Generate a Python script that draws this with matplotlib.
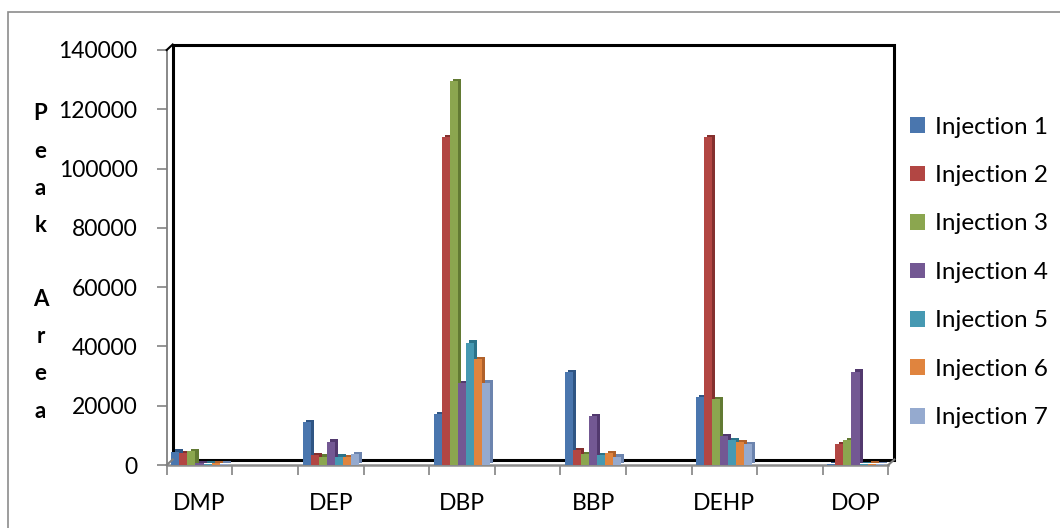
import numpy as np
import matplotlib
matplotlib.use('Agg')
import matplotlib.pyplot as plt
import matplotlib.patheffects as pe
from matplotlib.patches import Rectangle
from matplotlib.lines import Line2D
import matplotlib.transforms as mtransforms

plt.rcParams['font.family'] = ['Lato', 'DejaVu Sans']

# phthalates, with empty spacer categories between them
compounds = ['DMP', '', 'DEP', '', 'DBP', '', 'BBP', '', 'DEHP', '', 'DOP']
series = ['Injection 1', 'Injection 2', 'Injection 3', 'Injection 4',
          'Injection 5', 'Injection 6', 'Injection 7']

inj1 = [4500, 0, 14400, 0, 17100, 0, 31300, 0, 23000, 0, 300]
inj2 = [3900, 0, 3400, 0, 110500, 0, 5100, 0, 110500, 0, 7100]
inj3 = [4600, 0, 2800, 0, 129500, 0, 3600, 0, 22200, 0, 8300]
inj4 = [700, 0, 7900, 0, 27500, 0, 16500, 0, 9800, 0, 31500]
inj5 = [500, 0, 2800, 0, 41300, 0, 3400, 0, 8400, 0, 400]
inj6 = [600, 0, 2600, 0, 35800, 0, 3900, 0, 7800, 0, 500]
inj7 = [500, 0, 3700, 0, 27800, 0, 2800, 0, 7100, 0, 400]
values = [inj1, inj2, inj3, inj4, inj5, inj6, inj7]

colors = ['#4A76AE', '#B24643', '#8BA64F', '#735893', '#4699B2', '#E0843E', '#95AACF']
sides = ['#2F5584', '#84302E', '#627A33', '#52396E', '#2C7389', '#B0612A', '#6C84AE']

fig = plt.figure(figsize=(10.6, 5.28), dpi=100)
W, H = 1060, 528
ax = fig.add_axes([166.7 / W, (H - 465) / H, (888.3 - 166.7) / W, (465 - 50) / H])

# outer chart border
fig.patches.append(Rectangle((8 / W, -0.1), 2, (H - 12) / H + 0.1, transform=fig.transFigure,
                             fill=False, edgecolor='#8C8C8C', linewidth=1.2, zorder=0))

# back wall of the 3-D plot area, pushed back a few pixels
depth = (6, 5.5)
wall = mtransforms.offset_copy(ax.transAxes, fig=fig, x=depth[0], y=depth[1], units='dots')
ax.add_patch(Rectangle((0, 0), 1, 1, transform=wall, fill=False, edgecolor='black',
                       linewidth=2.2, zorder=1, clip_on=False))
# edges joining the front frame to the back wall
for cx, cy, col in [(0, 1, 'black'), (1, 0, '#7F7F7F'), (0, 0, '#7F7F7F')]:
    a = ax.transAxes.transform((cx, cy))
    b = a + np.array(depth)
    fig.lines.append(Line2D([a[0] / W, b[0] / W], [a[1] / H, b[1] / H],
                            transform=fig.transFigure, color=col, linewidth=1.5))

x = np.arange(len(compounds))
width = 0.122
for i, (vals, c, s, name) in enumerate(zip(values, colors, sides, series)):
    ax.bar(x + (i - 3) * width, vals, width, color=c, label=name, zorder=3, linewidth=0,
           path_effects=[pe.SimplePatchShadow(offset=(2.2, 1.6), shadow_rgbFace=s, alpha=1),
                         pe.Normal()])

ax.set_xlim(-0.5, len(compounds) - 0.5)
ax.set_ylim(0, 140000)
ax.set_yticks(np.arange(0, 140001, 20000))
ax.set_xticks(x)
ax.set_xticklabels(compounds)
ax.set_xticks(np.arange(-0.5, len(compounds), 1), minor=True)
ax.tick_params(axis='x', which='major', length=0, pad=20, labelsize=16.5)
ax.tick_params(axis='x', which='minor', length=7, color='#8C8C8C', width=1.3)
ax.tick_params(axis='y', length=7, color='#8C8C8C', width=1.3, pad=14, labelsize=16.5)

for side in ['top', 'right']:
    ax.spines[side].set_visible(False)
ax.spines['left'].set_color('#7F7F7F')
ax.spines['bottom'].set_color('#8C8C8C')
ax.spines['left'].set_linewidth(1.3)
ax.spines['bottom'].set_linewidth(1.8)
ax.patch.set_alpha(0)

ax.set_ylabel('P\ne\na\nk\n\nA\nr\ne\na', rotation=0, fontweight='bold', fontsize=16,
              linespacing=1.95, va='center', ha='center')
ax.yaxis.set_label_coords(-0.175, 0.488)

leg = ax.legend(loc='center left', bbox_to_anchor=(1.0, 0.464), frameon=False, fontsize=17.5,
                handlelength=0.62, handleheight=0.62, handletextpad=0.4, labelspacing=1.13)
# flat swatches in the legend
for h in leg.legend_handles:
    h.set_path_effects([])

fig.savefig('out.png', dpi=100)
